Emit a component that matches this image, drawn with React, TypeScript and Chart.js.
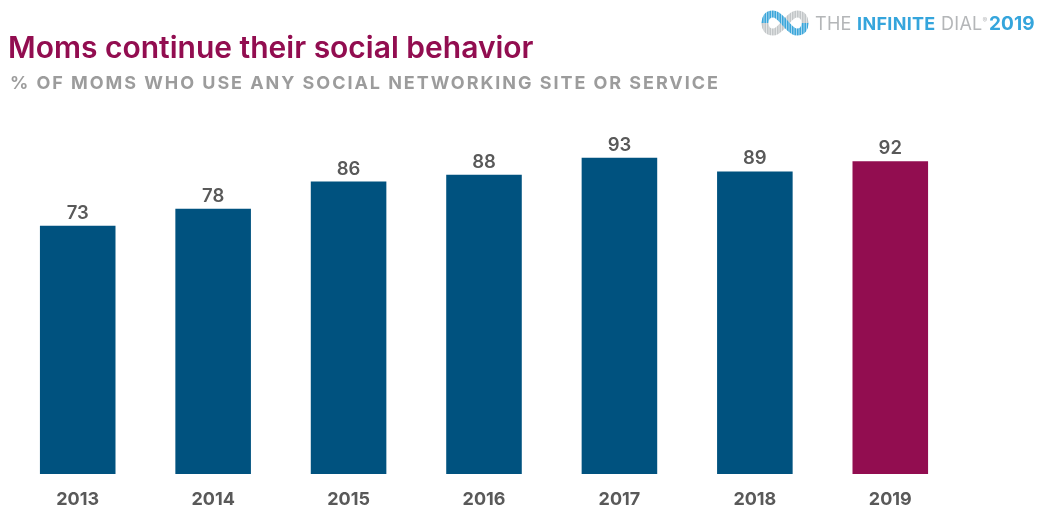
import React, { useEffect, useRef } from "react";
import { Chart, registerables } from "chart.js";

Chart.register(...registerables);

const years = ["2013", "2014", "2015", "2016", "2017", "2018", "2019"];
const momsOnSocial = [73, 78, 86, 88, 93, 89, 92];
const barColors = ["#00527f", "#00527f", "#00527f", "#00527f", "#00527f", "#00527f", "#920d50"];

const FONT = "Inter, 'Noto Sans', sans-serif";

// Writes each bar's value just above its top edge.
const valueLabels = {
  id: "valueLabels",
  afterDatasetsDraw(chart: any) {
    const { ctx } = chart;
    const meta = chart.getDatasetMeta(0);
    ctx.save();
    ctx.font = `600 18.5px ${FONT}`;
    ctx.fillStyle = "#595959";
    ctx.textAlign = "center";
    ctx.textBaseline = "alphabetic";
    meta.data.forEach((bar: any, i: number) => {
      ctx.fillText(String(momsOnSocial[i]), bar.x, bar.y - 7);
    });
    ctx.restore();
  },
};

// Interlaced infinity mark built from short vertical strokes.
function InfinityMark() {
  const offsets = [-21, -18.5, -16, -13.5, -11, -8.5, -6, -3.5, -1, 1.5, 4, 6.5, 9, 11.5, 14, 16.5, 19, 21.5];
  return (
    <svg width="50" height="30" viewBox="-25 -15 50 30" style={{ position: "absolute", left: 760, top: 8 }}>
      <g fill="none" strokeLinecap="butt">
        <path d="M-20 0 C-20 5 -18 9 -12 9 C-7 9 -4 4 0 0 C4 -4 7 -9 12 -9 C18 -9 20 -5 20 0"
          stroke="#c2c6c8" strokeWidth="7" />
        <path d="M-20 0 C-20 -5 -18 -9 -12 -9 C-7 -9 -4 -4 0 0 C4 4 7 9 12 9 C18 9 20 5 20 0"
          stroke="#3ba6da" strokeWidth="7" />
        {offsets.map((x) => (
          <line key={x} x1={x} x2={x} y1="-14" y2="14" stroke="#ffffff" strokeWidth="0.8" opacity="0.7" />
        ))}
      </g>
    </svg>
  );
}

export default function App() {
  const canvasRef = useRef<HTMLCanvasElement | null>(null);

  useEffect(() => {
    const chart = new Chart(canvasRef.current!, {
      type: "bar",
      data: {
        labels: years,
        datasets: [
          {
            data: momsOnSocial,
            backgroundColor: barColors,
            borderWidth: 0,
            categoryPercentage: 1,
            barPercentage: 0.558,
          },
        ],
      },
      options: {
        animation: false,
        responsive: false,
        layout: { padding: { left: 10, right: 79, top: 134, bottom: 0 } },
        plugins: { legend: { display: false }, tooltip: { enabled: false }, title: { display: false } },
        scales: {
          y: { display: false, min: 0, max: 100 },
          x: {
            border: { display: false },
            grid: { display: false, drawTicks: false },
            afterFit(scale: any) {
              scale.height = 34;
            },
            ticks: {
              color: "#595959",
              padding: 15,
              maxRotation: 0,
              font: { family: FONT, size: 18, weight: 700 },
            },
          },
        },
      },
      plugins: [valueLabels],
    });
    return () => chart.destroy();
  }, []);

  return (
    <div style={{ position: "absolute", left: 0, top: 0, width: 1037, height: 508, overflow: "hidden", background: "#fff", fontFamily: FONT }}>
      <canvas ref={canvasRef} width={1037} height={508} style={{ position: "absolute", left: 0, top: 0 }} />
      <div style={{ position: "absolute", left: 8, top: 29, fontSize: 30, fontWeight: 600, color: "#920d50", whiteSpace: "nowrap", lineHeight: "36px" }}>
        Moms continue their social behavior
      </div>
      <div style={{ position: "absolute", left: 10, top: 72, fontSize: 18, fontWeight: 700, letterSpacing: 1.95, color: "#9c9c9c", whiteSpace: "nowrap", lineHeight: "22px" }}>
        % OF MOMS WHO USE ANY SOCIAL NETWORKING SITE OR SERVICE
      </div>
      <InfinityMark />
      <div style={{ position: "absolute", left: 815, top: 10, fontSize: 18, letterSpacing: 0.3, color: "#b4b6b8", whiteSpace: "nowrap", lineHeight: "22px" }}>
        THE <span style={{ color: "#35a5dc", fontWeight: 700 }}>INFINITE</span> DIAL<span style={{ fontSize: 7, verticalAlign: "super" }}>®</span>
      </div>
      <div style={{ position: "absolute", left: 989, top: 13, fontSize: 19, letterSpacing: 0.1, fontWeight: 700, color: "#35a5dc", whiteSpace: "nowrap", lineHeight: "22px" }}>
        2019
      </div>
    </div>
  );
}
